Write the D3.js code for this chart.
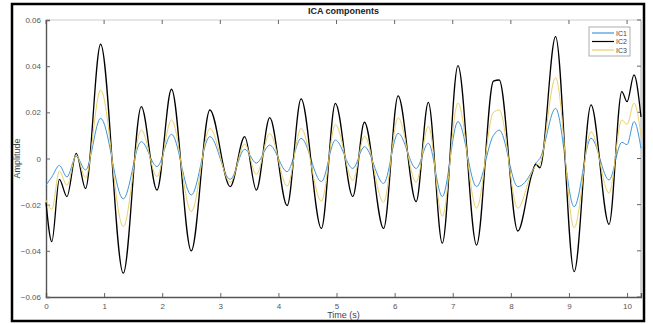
<!DOCTYPE html>
<html>
<head>
<meta charset="utf-8">
<script src="https://cdn.jsdelivr.net/npm/d3@7"></script>
<style>
  body { margin: 0; background: #fff; }
  svg { font-family: "Liberation Sans", Arial, sans-serif; }
  .tick text { fill: #555; font-size: 8px; }
</style>
</head>
<body>
<svg id="chart" width="653" height="324"></svg>
<script>
// sample times (s) at the turning points
var time = [0, 0.10, 0.23, 0.36, 0.52, 0.68, 0.94, 1.33, 1.64, 1.91, 2.16, 2.50, 2.82, 3.17, 3.42,
            3.62, 3.85, 4.15, 4.39, 4.74, 4.98, 5.28, 5.48, 5.81, 6.06, 6.37, 6.58, 6.82, 7.09,
            7.41, 7.70, 7.80, 8.12, 8.36, 8.43, 8.50, 8.77, 9.09, 9.38, 9.69, 9.91, 10.0, 10.12, 10.24];

var ic1 = [-0.0115, -0.008, -0.003, -0.008, 0.001, -0.005, 0.0174, -0.0175, 0.0073, -0.0035, 0.0105,
           -0.0158, 0.0095, -0.009, 0.004, -0.002, 0.0058, -0.0057, 0.0087, -0.010, 0.008, -0.0043,
           0.0051, -0.0108, 0.0109, -0.0043, 0.0066, -0.0165, 0.016, -0.0122, 0.010, 0.0123,
           -0.0122, -0.0057, -0.002, 0.000, 0.0217, -0.0209, 0.0088, -0.0093, 0.007, 0.006, 0.016, 0.0044];

var ic2 = [-0.019, -0.036, -0.009, -0.0165, 0.0022, -0.013, 0.0495, -0.0497, 0.0225, -0.0137, 0.030,
           -0.040, 0.021, -0.0122, 0.0095, -0.0137, 0.0177, -0.0204, 0.0258, -0.0303, 0.0239, -0.0165,
           0.0157, -0.0303, 0.0271, -0.0187, 0.0243, -0.0367, 0.0402, -0.0375, 0.0335, 0.034,
           -0.0314, -0.007, -0.0025, -0.004, 0.0528, -0.049, 0.0232, -0.0285, 0.029, 0.0246, 0.0362, 0.018];

var ic3 = [-0.018, -0.022, -0.0055, -0.0116, 0.0015, -0.0084, 0.0297, -0.0295, 0.0123, -0.0078, 0.0167,
           -0.023, 0.013, -0.0103, 0.0063, -0.0069, 0.0108, -0.0119, 0.013, -0.0185, 0.0147, -0.0094,
           0.0096, -0.019, 0.0177, -0.0103, 0.014, -0.025, 0.024, -0.0215, 0.020, 0.021,
           -0.0215, -0.006, -0.003, -0.002, 0.035, -0.030, 0.0116, -0.015, 0.0167, 0.0148, 0.024, 0.010];

var xTicks = [0, 1, 2, 3, 4, 5, 6, 7, 8, 9, 10];
var yTicks = [-0.06, -0.04, -0.02, 0, 0.02, 0.04, 0.06];
var seriesNames = ["IC1", "IC2", "IC3"];
var seriesColors = ["#3f95d8", "#000000", "#e9cf6a"];

var svg = d3.select("#chart");
var pLeft = 46, pRight = 641, pTop = 20, pBottom = 297;

// outer frame
svg.append("rect")
    .attr("x", 12).attr("y", 4)
    .attr("width", 632).attr("height", 317)
    .attr("fill", "none")
    .attr("stroke", "#000")
    .attr("stroke-width", 2.5);

var x = d3.scaleLinear().domain([0, 10.24]).range([pLeft, pRight]);
var y = d3.scaleLinear().domain([-0.06, 0.06]).range([pBottom, pTop]);

// box lines (top / right)
svg.append("line").attr("x1", pLeft).attr("x2", pRight).attr("y1", pTop).attr("y2", pTop)
    .attr("stroke", "#ccc");
svg.append("line").attr("x1", pRight).attr("x2", pRight).attr("y1", pTop).attr("y2", pBottom)
    .attr("stroke", "#aaa");

// inward ticks on top and right
svg.append("g").selectAll("line").data(xTicks).enter().append("line")
    .attr("x1", function(d) { return x(d); }).attr("x2", function(d) { return x(d); })
    .attr("y1", pTop).attr("y2", pTop + 4).attr("stroke", "#666");
svg.append("g").selectAll("line").data(yTicks).enter().append("line")
    .attr("x1", pRight).attr("x2", pRight - 4)
    .attr("y1", function(d) { return y(d); }).attr("y2", function(d) { return y(d); })
    .attr("stroke", "#666");

var fmt = function(d) { return d === 0 ? "0" : d3.format(".2f")(d); };

var xAxis = svg.append("g")
    .attr("transform", "translate(0," + pBottom + ")")
    .call(d3.axisBottom(x).tickValues(xTicks).tickSize(-4).tickPadding(6).tickFormat(d3.format("d")));
var yAxis = svg.append("g")
    .attr("transform", "translate(" + pLeft + ",0)")
    .call(d3.axisLeft(y).tickValues(yTicks).tickSize(-4).tickPadding(5).tickFormat(fmt));

[xAxis, yAxis].forEach(function(a) {
    a.select(".domain").attr("stroke", "#555").attr("stroke-width", 1.4);
    a.selectAll(".tick line").attr("stroke", "#666");
});

var line = d3.line()
    .curve(d3.curveMonotoneX)
    .x(function(d, i) { return x(time[i]); })
    .y(function(d) { return y(d); });

[ic1, ic2, ic3].forEach(function(s, i) {
    svg.append("path")
        .datum(s)
        .attr("fill", "none")
        .attr("stroke", seriesColors[i])
        .attr("stroke-width", i === 1 ? 1.3 : 1)
        .attr("d", line);
});

// title and axis labels
svg.append("text")
    .attr("x", (pLeft + pRight) / 2).attr("y", 14)
    .attr("text-anchor", "middle")
    .attr("font-size", 9).attr("font-weight", "bold").attr("fill", "#222")
    .text("ICA components");

svg.append("text")
    .attr("x", (pLeft + pRight) / 2).attr("y", 318)
    .attr("text-anchor", "middle")
    .attr("font-size", 9).attr("fill", "#444")
    .text("Time (s)");

svg.append("text")
    .attr("transform", "translate(20," + ((pTop + pBottom) / 2) + ")rotate(-90)")
    .attr("text-anchor", "middle")
    .attr("font-size", 9).attr("fill", "#444")
    .text("Amplitude");

// legend
var legend = svg.append("g").attr("transform", "translate(589,27)");
legend.append("rect")
    .attr("width", 41).attr("height", 29)
    .attr("fill", "#fff").attr("stroke", "#999").attr("stroke-width", 0.8);
legend.selectAll(".item").data(seriesNames).enter().append("g")
    .attr("transform", function(d, i) { return "translate(0," + (6 + i * 8.5) + ")"; })
    .each(function(d, i) {
        var g = d3.select(this);
        g.append("line").attr("x1", 3).attr("x2", 25).attr("y1", 0).attr("y2", 0)
            .attr("stroke", seriesColors[i]).attr("stroke-width", 1.2);
        g.append("text").attr("x", 27).attr("y", 2.5)
            .attr("font-size", 7).attr("fill", "#444").text(d);
    });
</script>
</body>
</html>
